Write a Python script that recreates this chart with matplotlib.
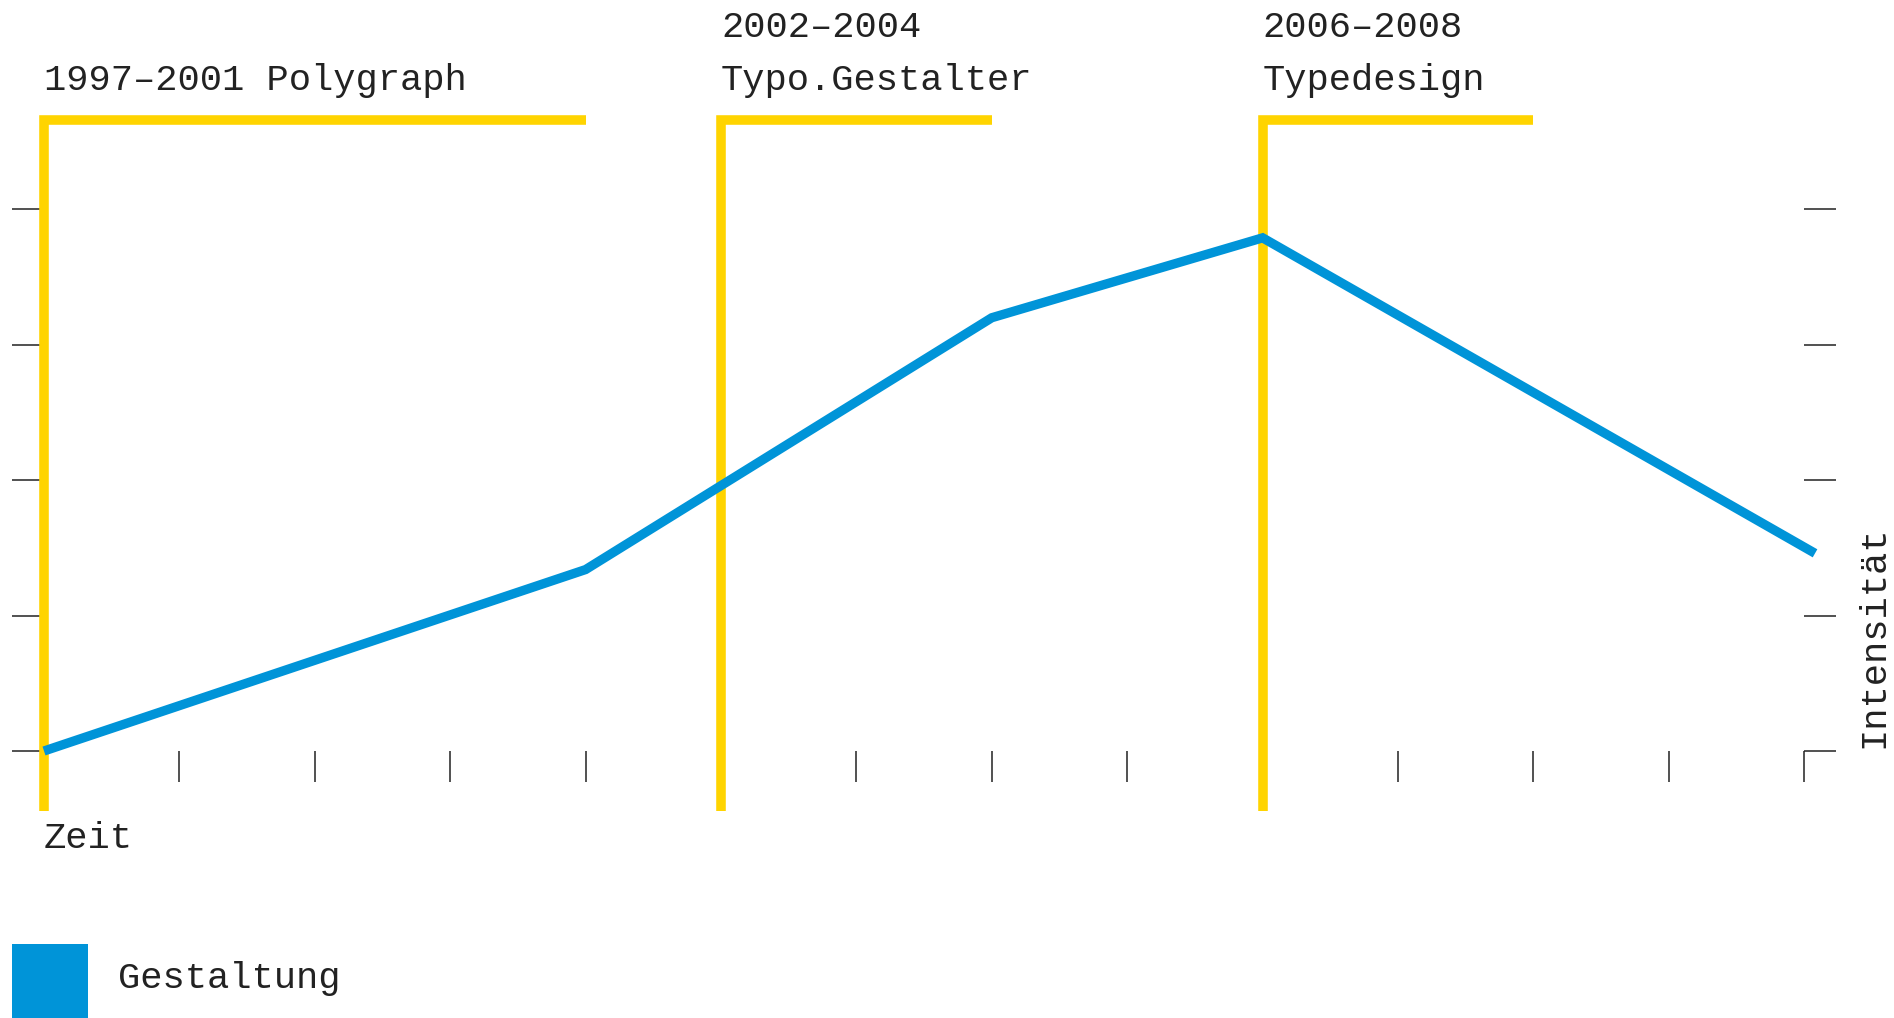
import matplotlib
matplotlib.use("Agg")
import matplotlib.pyplot as plt
from matplotlib.patches import Rectangle

plt.rcParams['font.family'] = ['Liberation Mono', 'DejaVu Sans Mono']

# timeline data
years = [1997, 2001, 2004, 2006, 2010.08]
intensity = [0, 1.34, 3.2, 3.79, 1.46]

phase_start = [1997, 2002, 2006]
phase_end = [2001, 2004, 2008]
phase_years = ["", "2002–2004", "2006–2008"]
phase_names = ["1997–2001 Polygraph", "Typo.Gestalter", "Typedesign"]

x_ticks = list(range(1997, 2011))
y_ticks = [0, 1, 2, 3, 4]

YELLOW = '#FFD400'
BLUE = '#0094D8'
INK = '#222222'
FS = 26.7

W, H = 1894, 1018
fig = plt.figure(figsize=(W / 100, H / 100), dpi=100)
ax = fig.add_axes([0, 0, 1, 1])

unit = 135.4  # px per tick step
x0, y0 = 44, 751  # origin in pixels
ax.set_xlim(1997 - x0 / unit, 1997 + (W - x0) / unit)
ax.set_ylim((y0 - H) / unit, y0 / unit)

# invisible spines carry the ticks
ax.spines['top'].set_visible(False)
ax.spines['left'].set_position(('data', 1997))
ax.spines['right'].set_position(('data', 2010))
ax.spines['bottom'].set_position(('data', 0))
for s in ['left', 'right', 'bottom']:
    ax.spines[s].set_color('none')

ax.set_xticks(x_ticks)
ax.set_yticks(y_ticks)
ax.yaxis.set_ticks_position('both')
ax.tick_params(axis='y', left=True, right=True, direction='out',
               length=23, width=1.1, color=INK,
               labelleft=False, labelright=False)
ax.tick_params(axis='x', bottom=True, top=False, direction='out',
               length=22, width=1.1, color=INK, labelbottom=False)

# phase brackets
top, bottom = 4.66, -0.44
for s, e, yr, name in zip(phase_start, phase_end, phase_years, phase_names):
    ax.plot([s, s, e], [bottom, top, top], color=YELLOW, lw=6.9,
            solid_capstyle='butt', solid_joinstyle='miter', zorder=3)
    ax.text(s, 4.88, name, fontsize=FS, color=INK, ha='left', va='baseline')
    if yr:
        ax.text(s, 5.27, yr, fontsize=FS, color=INK, ha='left', va='baseline')

ax.plot(years, intensity, color=BLUE, lw=6.7,
        solid_capstyle='butt', solid_joinstyle='miter', zorder=4)

ax.text(1997, -0.716, "Zeit", fontsize=FS, color=INK, ha='left', va='baseline')
ax.text(1997 + (1883 - x0) / unit, 0.02, "Intensität", fontsize=FS, color=INK,
        rotation=90, rotation_mode='anchor', ha='left', va='baseline')

# legend
fig.patches.append(Rectangle((12 / W, 0), 76 / W, 74 / H, transform=fig.transFigure,
                             facecolor=BLUE, edgecolor='none'))
fig.text(118 / W, 1 - 988 / H, "Gestaltung", fontsize=FS, color=INK,
         ha='left', va='baseline')

fig.savefig("out.png", dpi=100, facecolor='white')
